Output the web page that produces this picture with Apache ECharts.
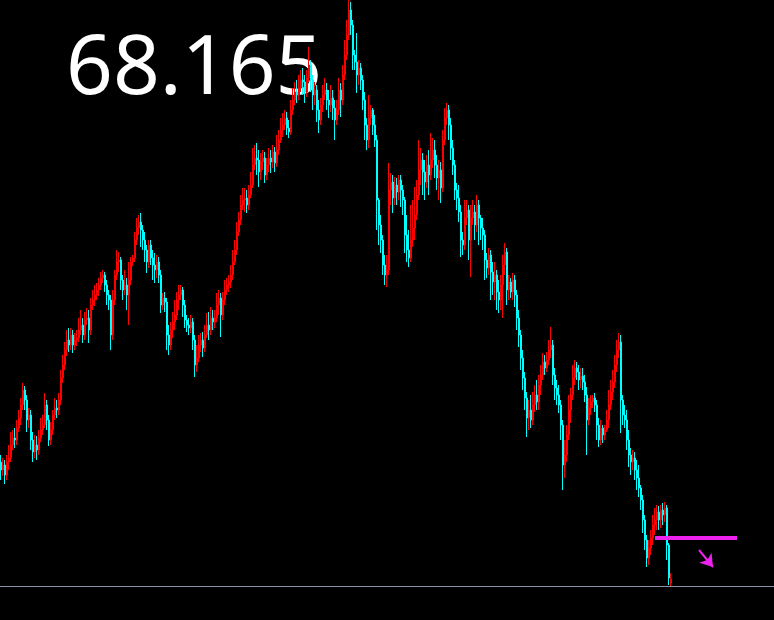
<!DOCTYPE html>
<html><head><meta charset="utf-8">
<script src="https://cdn.jsdelivr.net/npm/echarts@6/dist/echarts.min.js"></script>
<style>html,body{margin:0;padding:0;background:#000;} #c{width:774px;height:620px;}</style>
</head><body><div id="c"></div><script>
const priceLabel = '68.165';
// [open, close, low, high]
const candles = [
[69.41,69.33,69.23,69.48],[69.33,69.38,69.27,69.45],[69.38,69.28,69.19,69.43],[69.28,69.41,69.23,69.48],[69.41,69.45,69.33,69.58],
[69.45,69.58,69.41,69.71],[69.58,69.65,69.53,69.73],[69.65,69.63,69.55,69.75],[69.63,69.75,69.58,69.83],[69.75,69.85,69.71,69.93],
[69.85,69.98,69.78,70.05],[69.98,70.13,69.93,70.20],[70.13,70.03,69.93,70.17],[70.03,69.83,69.71,70.08],[69.83,69.88,69.75,69.95],
[69.88,69.63,69.53,69.93],[69.63,69.51,69.41,69.71],[69.51,69.58,69.45,69.68],[69.58,69.53,69.43,69.67],[69.53,69.65,69.48,69.73],
[69.65,69.73,69.61,69.85],[69.73,69.78,69.68,69.88],[69.78,69.98,69.75,70.10],[69.98,69.83,69.73,70.03],[69.83,69.63,69.57,69.88],
[69.63,69.73,69.58,69.81],[69.73,69.88,69.68,69.93],[69.88,69.95,69.83,70.05],[69.95,69.93,69.85,70.03],[69.93,70.03,69.88,70.10],
[70.03,70.25,69.98,70.33],[70.25,70.38,70.20,70.48],[70.38,70.53,70.33,70.61],[70.53,70.63,70.47,70.73],[70.63,70.58,70.51,70.75],
[70.58,70.68,70.53,70.75],[70.68,70.58,70.50,70.73],[70.58,70.63,70.53,70.70],[70.63,70.65,70.57,70.73],[70.65,70.73,70.61,70.85],
[70.73,70.78,70.68,70.93],[70.78,70.68,70.60,70.85],[70.68,70.83,70.63,70.91],[70.83,70.85,70.78,70.95],[70.85,70.73,70.60,70.93],
[70.73,70.98,70.68,71.05],[70.98,71.03,70.93,71.13],[71.03,71.08,70.97,71.18],[71.08,71.13,71.03,71.20],[71.13,71.18,71.07,71.25],
[71.18,71.25,71.13,71.31],[71.25,71.28,71.20,71.33],[71.28,71.18,71.11,71.31],[71.18,71.08,70.98,71.23],[71.08,71.03,70.93,71.13],
[71.03,70.68,70.53,71.08],[70.68,71.03,70.63,71.13],[71.03,71.28,70.98,71.33],[71.28,71.41,71.23,71.53],[71.41,71.43,71.31,71.51],
[71.43,71.23,71.13,71.46],[71.23,71.13,71.03,71.28],[71.13,71.18,71.08,71.33],[71.18,71.08,70.93,71.25],[71.08,71.23,70.78,71.41],
[71.23,71.41,71.18,71.46],[71.41,71.45,71.37,71.48],[71.45,71.63,71.41,71.71],[71.63,71.75,71.58,71.85],[71.75,71.81,71.68,71.88],
[71.81,71.73,71.56,71.90],[71.73,71.63,71.53,71.78],[71.63,71.53,71.41,71.71],[71.53,71.41,71.30,71.58],[71.41,71.58,71.35,71.63],
[71.58,71.45,71.38,71.63],[71.45,71.38,71.23,71.53],[71.38,71.33,71.20,71.50],[71.33,71.41,71.25,71.48],[71.41,71.28,71.20,71.46],
[71.28,70.98,70.90,71.33],[70.98,71.05,70.93,71.10],[71.05,71.01,70.91,71.11],[71.01,70.68,70.53,71.05],[70.68,70.58,70.48,70.78],
[70.58,70.73,70.53,70.81],[70.73,70.81,70.65,70.91],[70.81,70.88,70.73,71.03],[70.88,71.03,70.83,71.11],[71.03,71.08,70.93,71.18],
[71.08,71.13,71.03,71.18],[71.13,70.98,70.86,71.16],[70.98,70.83,70.75,71.03],[70.83,70.78,70.71,70.88],[70.78,70.75,70.68,70.85],
[70.75,70.81,70.70,70.88],[70.81,70.63,70.53,70.85],[70.63,70.38,70.26,70.68],[70.38,70.45,70.31,70.58],[70.45,70.58,70.41,70.68],
[70.58,70.63,70.51,70.70],[70.63,70.55,70.46,70.71],[70.55,70.68,70.51,70.78],[70.68,70.78,70.65,70.90],[70.78,70.73,70.63,70.91],
[70.73,70.85,70.68,70.96],[70.85,70.81,70.73,70.93],[70.81,70.85,70.75,70.93],[70.85,70.98,70.81,71.10],[70.98,71.05,70.88,71.13],
[71.05,70.88,70.66,71.10],[70.88,71.03,70.83,71.11],[71.03,71.13,70.98,71.23],[71.13,71.18,71.08,71.25],[71.18,71.21,71.11,71.28],
[71.21,71.28,71.15,71.38],[71.28,71.41,71.23,71.53],[71.41,71.53,71.38,71.63],[71.53,71.71,71.48,71.81],[71.71,71.83,71.67,71.91],
[71.83,71.98,71.78,72.08],[71.98,72.03,71.93,72.15],[72.03,72.05,71.91,72.15],[72.05,71.98,71.90,72.13],[71.98,72.08,71.93,72.18],
[72.08,72.18,72.05,72.31],[72.18,72.38,72.15,72.55],[72.38,72.45,72.33,72.58],[72.45,72.43,72.28,72.60],[72.43,72.31,72.16,72.53],
[72.31,72.41,72.23,72.50],[72.41,72.45,72.33,72.53],[72.45,72.28,72.20,72.51],[72.28,72.38,72.23,72.45],[72.38,72.45,72.31,72.55],
[72.45,72.41,72.30,72.53],[72.41,72.51,72.35,72.58],[72.51,72.40,72.31,72.56],[72.40,72.53,72.36,72.68],[72.53,72.63,72.48,72.73],
[72.63,72.73,72.60,72.85],[72.73,72.78,72.66,72.90],[72.78,72.85,72.73,72.93],[72.85,72.75,72.68,72.91],[72.75,72.71,72.65,72.83],
[72.71,72.93,72.68,73.03],[72.93,73.03,72.88,73.15],[73.03,73.11,72.98,73.21],[73.11,73.08,73.00,73.23],[73.08,73.15,73.03,73.28],
[73.15,73.23,73.11,73.33],[73.23,73.21,73.08,73.35],[73.21,73.11,73.00,73.28],[73.11,73.25,73.06,73.33],[73.25,73.38,73.21,73.56],
[73.38,73.23,73.11,73.43],[73.23,73.08,72.93,73.28],[73.08,73.13,72.98,73.21],[73.13,72.93,72.81,73.18],[72.93,72.83,72.70,73.03],
[72.83,72.98,72.78,73.05],[72.98,73.08,72.91,73.18],[73.08,73.13,73.03,73.25],[73.13,73.03,72.93,73.20],[73.03,72.98,72.85,73.13],
[72.98,73.05,72.91,73.18],[73.05,72.95,72.83,73.13],[72.95,72.83,72.63,73.03],[72.83,72.93,72.78,73.03],[72.93,73.13,72.88,73.25],
[73.13,73.03,72.86,73.20],[73.03,73.28,72.98,73.38],[73.28,73.48,73.23,73.63],[73.48,73.68,73.43,73.83],[73.68,73.93,73.63,74.03],
[73.93,73.78,73.68,74.01],[73.78,73.48,73.33,73.83],[73.48,73.41,73.33,73.53],[73.41,73.28,73.10,73.70],[73.28,73.35,73.18,73.43],
[73.35,73.23,73.13,73.40],[73.23,73.03,72.93,73.28],[73.03,72.78,72.63,73.11],[72.78,72.63,72.53,72.85],[72.63,72.85,72.55,73.08],
[72.85,72.93,72.78,72.98],[72.93,72.78,72.68,72.95],[72.78,72.63,72.56,72.88],[72.63,72.03,71.73,72.68],[72.03,71.78,71.58,72.05],
[71.78,71.63,71.50,71.88],[71.63,71.38,71.28,71.68],[71.38,71.28,71.18,71.48],[71.28,71.33,71.16,71.48],[71.33,72.13,71.28,72.40],
[72.13,72.21,71.98,72.30],[72.21,72.05,71.90,72.28],[72.05,72.18,71.98,72.26],[72.18,72.11,71.98,72.25],[72.11,72.23,72.03,72.28],
[72.23,72.13,71.96,72.28],[72.13,72.03,71.88,72.18],[72.03,71.68,71.50,72.06],[71.68,71.53,71.41,71.88],[71.53,71.45,71.36,71.73],
[71.45,71.63,71.41,71.98],[71.63,71.75,71.56,72.03],[71.75,71.88,71.63,72.16],[71.88,72.08,71.83,72.23],[72.08,72.33,72.03,72.63],
[72.33,72.43,72.18,72.55],[72.43,72.31,72.08,72.50],[72.31,72.21,72.03,72.43],[72.21,72.38,72.15,72.48],[72.38,72.28,72.08,72.53],
[72.28,72.43,72.23,72.70],[72.43,72.53,72.35,72.65],[72.53,72.38,72.25,72.63],[72.38,72.25,72.13,72.48],[72.25,72.33,72.03,72.43],
[72.33,72.15,72.00,72.41],[72.15,72.63,72.11,72.73],[72.63,72.85,72.58,72.95],[72.85,72.93,72.78,73.00],[72.93,72.78,72.63,72.98],
[72.78,72.55,72.43,72.85],[72.55,72.38,72.28,72.63],[72.38,72.13,72.03,72.43],[72.13,72.05,71.93,72.20],[72.05,71.91,71.81,72.18],
[71.91,71.63,71.46,71.98],[71.63,71.58,71.48,71.71],[71.58,71.85,71.53,72.03],[71.85,71.93,71.78,72.03],[71.93,71.63,71.43,71.98],
[71.63,71.85,71.26,71.98],[71.85,71.91,71.78,72.03],[71.91,71.78,71.63,71.98],[71.78,71.98,71.71,72.08],[71.98,71.85,71.58,72.03],
[71.85,71.75,71.63,71.88],[71.75,71.68,71.53,71.85],[71.68,71.43,71.23,71.73],[71.43,71.35,71.25,71.50],[71.35,71.48,71.28,71.55],
[71.48,71.31,71.03,71.53],[71.31,71.21,71.08,71.41],[71.21,71.28,71.03,71.41],[71.28,71.11,70.93,71.33],[71.11,71.03,70.90,71.23],
[71.03,71.18,70.93,71.28],[71.18,71.38,70.85,71.48],[71.38,71.51,71.28,71.60],[71.51,71.13,70.98,71.55],[71.13,71.21,71.03,71.28],
[71.21,71.11,71.05,71.25],[71.11,71.23,71.03,71.30],[71.23,71.08,70.96,71.28],[71.08,70.85,70.73,71.13],[70.85,70.68,70.56,70.93],
[70.68,70.45,70.33,70.73],[70.45,70.25,70.13,70.53],[70.25,70.05,69.93,70.31],[70.05,69.85,69.66,70.11],[69.85,69.93,69.73,70.03],
[69.93,69.83,69.75,70.08],[69.83,69.98,69.78,70.11],[69.98,70.08,69.91,70.18],[70.08,70.01,69.93,70.23],[70.01,70.18,69.93,70.28],
[70.18,70.28,70.08,70.38],[70.28,70.41,70.23,70.50],[70.41,70.35,70.28,70.48],[70.35,70.43,70.31,70.51],[70.43,70.53,70.38,70.63],
[70.53,70.58,70.45,70.76],[70.58,70.28,70.18,70.63],[70.28,70.15,70.03,70.35],[70.15,70.08,69.98,70.23],[70.08,69.98,69.90,70.18],
[69.98,69.78,69.63,70.03],[69.78,69.38,69.13,69.83],[69.38,69.48,69.25,69.63],[69.48,69.68,69.41,69.78],[69.68,69.93,69.63,70.08],
[69.93,70.08,69.80,70.15],[70.08,70.25,70.03,70.38],[70.25,70.35,70.18,70.43],[70.35,70.31,70.23,70.41],[70.31,70.23,70.13,70.38],
[70.23,70.27,70.15,70.35],[70.27,70.21,70.13,70.35],[70.21,70.08,70.01,70.28],[70.08,69.83,69.48,70.16],[69.83,69.95,69.78,70.05],
[69.95,70.01,69.88,70.08],[70.01,70.05,69.95,70.08],[70.05,69.98,69.91,70.10],[69.98,69.78,69.63,70.03],[69.78,69.63,69.56,69.85],
[69.63,69.75,69.58,69.83],[69.75,69.68,69.60,69.78],[69.68,69.73,69.63,69.78],[69.73,69.83,69.71,69.93],[69.83,69.98,69.75,70.13],
[69.98,70.11,69.93,70.23],[70.11,70.21,70.03,70.33],[70.21,70.38,70.15,70.48],[70.38,70.53,70.31,70.63],[70.53,70.61,70.45,70.70],
[70.61,70.03,69.70,70.68],[70.03,69.88,69.78,70.08],[69.88,69.83,69.75,69.98],[69.83,69.63,69.53,69.93],[69.63,69.48,69.36,69.73],
[69.48,69.41,69.28,69.55],[69.41,69.45,69.33,69.53],[69.45,69.33,69.23,69.51],[69.33,69.25,69.13,69.43],[69.25,69.15,69.06,69.38],
[69.15,69.03,68.93,69.18],[69.03,68.83,68.70,69.08],[68.83,68.63,68.53,68.88],[68.63,68.45,68.36,68.68],[68.45,68.55,68.38,68.63],
[68.55,68.65,68.48,68.73],[68.65,68.78,68.58,68.88],[68.78,68.83,68.68,68.95],[68.83,68.91,68.73,68.98],[68.91,68.83,68.73,68.97],
[68.83,68.93,68.75,68.98],[68.93,68.88,68.78,69.00],[68.88,68.95,68.81,69.01],[68.95,68.58,68.43,68.98],[68.58,68.25,68.18,68.60],
[68.20,68.24,68.17,68.30]
];
const slotCount = 387;               // chart slots incl. empty right margin
const categories = Array.from({length: slotCount}, (_, i) => String(i + 1));
const bidLevel = 68.165;
const levelLine = [[327, 68.65], [368, 68.65]];
const arrowLine = [[348.5, 68.53], [355.5, 68.36]];
const yMin = 67.83, yMax = 74.03;

const chart = echarts.init(document.getElementById('c'), null, {renderer: 'canvas'});
chart.setOption({
  backgroundColor: '#000000',
  animation: false,
  title: {
    text: priceLabel, left: 66, top: 30, z: 0, padding: 0,
    textStyle: {color: '#ffffff', fontSize: 82, fontWeight: 'normal', fontFamily: 'Noto Sans'}
  },
  grid: {left: 0, right: 0, top: 0, bottom: 0},
  xAxis: {type: 'category', data: categories, show: false, boundaryGap: true},
  yAxis: {type: 'value', min: yMin, max: yMax, show: false},
  series: [
    {
      type: 'candlestick', data: candles, barWidth: 2, z: 3,
      itemStyle: {color: '#ff0000', color0: '#00ffff', borderColor: '#ff0000', borderColor0: '#00ffff', borderWidth: 1},
      markLine: {
        silent: true, symbol: ['none', 'none'], label: {show: false},
        lineStyle: {color: '#8a94a8', width: 1, type: 'solid'},
        data: [{yAxis: bidLevel}]
      }
    },
    {
      type: 'line', data: levelLine, symbol: 'none', z: 4,
      lineStyle: {color: '#ee22ee', width: 4}
    },
    {
      type: 'lines', coordinateSystem: 'cartesian2d', z: 4,
      symbol: ['none', 'arrow'], symbolSize: 12,
      lineStyle: {color: '#ee22ee', width: 2, opacity: 1},
      data: [{coords: arrowLine}]
    }
  ]
});
</script></body></html>
